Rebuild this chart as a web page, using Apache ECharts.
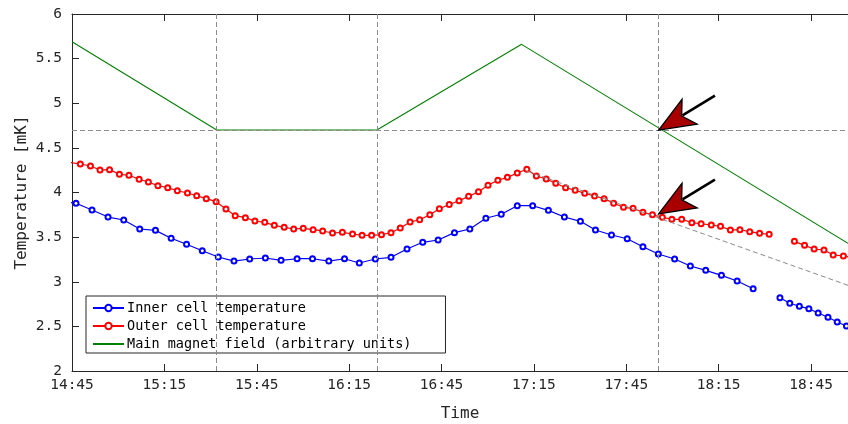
<!DOCTYPE html>
<html>
<head>
<meta charset="utf-8">
<script src="https://cdn.jsdelivr.net/npm/echarts@6/dist/echarts.min.js"></script>
<style>
  html, body { margin: 0; padding: 0; background: #ffffff; }
  #chart { width: 848px; height: 424px; }
</style>
</head>
<body>
<div id="chart"></div>
<script>
// Clock time at the left edge of the time axis, and the axis span in minutes
const ORIGIN = '14:45';
const SPAN_MINUTES = 252;
const TICK_MINUTES = 30;

// Inner cell temperature [mK]; null marks a gap in the logging
const innerTimes = [
  '14:41:12', '14:46:18', '14:51:30', '14:56:42', '15:01:48', '15:07:00', '15:12:06', '15:17:12',
  '15:22:12', '15:27:18', '15:32:30', '15:37:36', '15:42:42', '15:47:48', '15:52:54', '15:58:06',
  '16:03:06', '16:08:24', '16:13:30', '16:18:18', '16:23:30', '16:28:36', '16:33:48', '16:38:54',
  '16:43:54', '16:49:12', '16:54:12', '16:59:24', '17:04:24', '17:09:36', '17:14:36', '17:19:42',
  '17:24:54', '17:30:06', '17:35:00', '17:40:12', '17:45:18', '17:50:24', '17:55:24', '18:00:42',
  '18:05:48', '18:10:48', '18:15:54', '18:21:00', '18:26:12', null,
  '18:34:54', '18:38:06', '18:41:12', '18:44:18', '18:47:18', '18:50:30', '18:53:30', '18:56:30',
  '18:59:36'
];
const innerTemps = [
  3.90, 3.879, 3.804, 3.725, 3.692, 3.591, 3.576, 3.487,
  3.420, 3.348, 3.277, 3.232, 3.255, 3.266, 3.240, 3.258,
  3.258, 3.232, 3.258, 3.210, 3.255, 3.274, 3.367, 3.442,
  3.468, 3.550, 3.591, 3.711, 3.756, 3.852, 3.852, 3.800,
  3.725, 3.677, 3.580, 3.524, 3.482, 3.393, 3.311, 3.255,
  3.176, 3.128, 3.072, 3.008, 2.922, null,
  2.821, 2.759, 2.725, 2.698, 2.650, 2.602, 2.549, 2.504,
  2.47
];

// Outer cell temperature [mK]
const outerTimes = [
  '14:44:36', '14:47:42', '14:51:00', '14:54:06', '14:57:12', '15:00:24', '15:03:30', '15:06:48',
  '15:09:48', '15:12:54', '15:16:06', '15:19:12', '15:22:30', '15:25:30', '15:28:36', '15:31:48',
  '15:35:00', '15:38:00', '15:41:18', '15:44:24', '15:47:36', '15:50:42', '15:53:54', '15:57:00',
  '16:00:06', '16:03:18', '16:06:24', '16:09:36', '16:12:48', '16:16:06', '16:19:12', '16:22:18',
  '16:25:30', '16:28:36', '16:31:36', '16:34:48', '16:37:54', '16:41:12', '16:44:18', '16:47:30',
  '16:50:42', '16:53:48', '16:57:00', '17:00:06', '17:03:18', '17:06:24', '17:09:36', '17:12:42',
  '17:15:48', '17:19:00', '17:22:06', '17:25:18', '17:28:24', '17:31:30', '17:34:42', '17:37:48',
  '17:40:54', '17:44:06', '17:47:12', '17:50:24', '17:53:30', '17:56:42', '17:59:48', '18:03:00',
  '18:06:18', '18:09:18', '18:12:36', '18:15:36', '18:18:48', '18:21:54', '18:25:06', '18:28:18',
  '18:31:24', null,
  '18:39:36', '18:42:54', '18:46:00', '18:49:12', '18:52:12', '18:55:30', '18:58:36'
];
const outerTemps = [
  4.335, 4.319, 4.297, 4.252, 4.256, 4.204, 4.193, 4.148,
  4.118, 4.076, 4.054, 4.020, 3.994, 3.964, 3.931, 3.897,
  3.815, 3.740, 3.718, 3.681, 3.666, 3.632, 3.610, 3.591,
  3.599, 3.583, 3.569, 3.546, 3.554, 3.535, 3.520, 3.520,
  3.527, 3.550, 3.602, 3.669, 3.695, 3.751, 3.818, 3.866,
  3.908, 3.957, 4.009, 4.081, 4.137, 4.170, 4.218, 4.260,
  4.185, 4.151, 4.103, 4.054, 4.025, 3.991, 3.961, 3.931,
  3.879, 3.834, 3.823, 3.778, 3.751, 3.722, 3.700, 3.700,
  3.662, 3.650, 3.636, 3.621, 3.580, 3.583, 3.561, 3.543,
  3.532, null,
  3.453, 3.408, 3.367, 3.356, 3.300, 3.289, 3.27
];

// Main magnet field, plotted in arbitrary units on the temperature scale
const magnetTimes = ['14:45', '15:32', '16:24', '17:11', '18:57'];
const magnetLevels = [5.69, 4.70, 4.70, 5.66, 3.43];

// Reference markers: switching times, field level, and the outer-cell extrapolation
const markerTimes = ['15:32', '16:24', '17:55:30'];
const markerLevel = 4.7;
const trendTimes = ['17:12:42', '18:57'];
const trendTemps = [4.24, 2.96];
const arrowTips = [['17:55:30', 4.7], ['17:55:30', 3.76]];

const SERIES_NAMES = ['Inner cell temperature', 'Outer cell temperature', 'Main magnet field (arbitrary units)'];

const FONT = '"DejaVu Sans Mono", "Liberation Mono", monospace';
const AXIS_COLOR = '#262626';
const DASH_COLOR = '#8a8a8a';

function clockToMin(s) {
  const p = s.split(':').map(Number);
  return p[0] * 60 + p[1] + (p[2] || 0) / 60;
}
const originMin = clockToMin(ORIGIN);
function elapsed(s) { return clockToMin(s) - originMin; }
function minToLabel(v) {
  const m = Math.round(originMin + v);
  const h = Math.floor(m / 60), mm = m % 60;
  return h + ':' + String(mm).padStart(2, '0');
}
function pairs(times, values) {
  return times.map((t, i) => (t === null || values[i] === null) ? ['-', '-'] : [elapsed(t), values[i]]);
}

const dashed = { color: DASH_COLOR, width: 1, type: [5, 3] };

const chart = echarts.init(document.getElementById('chart'), null, { renderer: 'canvas' });

const baseX = {
  type: 'value', min: 0, max: SPAN_MINUTES, interval: TICK_MINUTES,
  axisLine: { show: true, onZero: false, lineStyle: { color: AXIS_COLOR, width: 1 } },
  axisTick: { show: true, inside: true, length: 7, lineStyle: { color: AXIS_COLOR } },
  splitLine: { show: false }
};

chart.setOption({
  animation: false,
  backgroundColor: '#ffffff',
  grid: { left: 72, right: 0, top: 14, bottom: 53, containLabel: false, outerBoundsMode: 'none' },
  xAxis: [
    Object.assign({}, baseX, {
      position: 'bottom',
      name: 'Time', nameLocation: 'middle', nameGap: 35, nameMoveOverlap: false,
      nameTextStyle: { fontFamily: FONT, fontSize: 16, color: AXIS_COLOR },
      axisLabel: {
        fontFamily: FONT, fontSize: 14.5, color: AXIS_COLOR, margin: 7,
        showMaxLabel: false, formatter: minToLabel
      }
    }),
    Object.assign({}, baseX, { position: 'top', axisLabel: { show: false } })
  ],
  yAxis: [{
    type: 'value', min: 2, max: 6, interval: 0.5,
    name: 'Temperature [mK]', nameLocation: 'middle', nameGap: 42, nameMoveOverlap: false,
    nameTextStyle: { fontFamily: FONT, fontSize: 16, color: AXIS_COLOR },
    axisLine: { show: true, onZero: false, lineStyle: { color: AXIS_COLOR, width: 1 } },
    axisTick: { show: true, inside: true, length: 7, lineStyle: { color: AXIS_COLOR } },
    axisLabel: { fontFamily: FONT, fontSize: 14.5, color: AXIS_COLOR, margin: 10 },
    splitLine: { show: false }
  }],
  legend: {
    data: [
      { name: SERIES_NAMES[0] },
      { name: SERIES_NAMES[1] },
      { name: SERIES_NAMES[2], itemStyle: { opacity: 0 } }
    ],
    orient: 'vertical', left: 86, top: 296,
    itemWidth: 31, itemHeight: 8, itemGap: 4,
    padding: [5, 34, 2, 6],
    borderColor: AXIS_COLOR, borderWidth: 1, borderRadius: 0,
    backgroundColor: '#ffffff',
    textStyle: { fontFamily: FONT, fontSize: 13.5, color: '#000000', padding: [0, 0, 0, -2] }
  },
  series: [
    {
      name: 'markers', type: 'line', data: [], silent: true, z: 1,
      markLine: {
        silent: true, symbol: 'none', animation: false,
        label: { show: false }, lineStyle: dashed,
        emphasis: { disabled: true },
        data: markerTimes.map(t => ({ xAxis: elapsed(t) })).concat([{ yAxis: markerLevel }])
      }
    },
    {
      name: SERIES_NAMES[0], type: 'line', z: 3,
      data: pairs(innerTimes, innerTemps),
      symbol: 'emptyCircle', symbolSize: 5, showAllSymbol: true,
      connectNulls: false, clip: true,
      itemStyle: { color: '#0000ff', borderWidth: 1 },
      lineStyle: { color: '#0000ff', width: 1.2 }
    },
    {
      name: SERIES_NAMES[1], type: 'line', z: 3,
      data: pairs(outerTimes, outerTemps),
      symbol: 'emptyCircle', symbolSize: 5, showAllSymbol: true,
      connectNulls: false, clip: true,
      itemStyle: { color: '#ff0000', borderWidth: 1 },
      lineStyle: { color: '#ff0000', width: 1.2 }
    },
    {
      name: SERIES_NAMES[2], type: 'line', z: 3,
      data: pairs(magnetTimes, magnetLevels),
      symbol: 'none', clip: true,
      itemStyle: { color: '#008000' },
      lineStyle: { color: '#008000', width: 1.1 }
    },
    {
      name: 'trend', type: 'line', z: 4, silent: true,
      data: pairs(trendTimes, trendTemps),
      symbol: 'none', clip: true,
      lineStyle: dashed
    }
  ]
});

// Annotation arrows pointing at the marker positions from the upper right
function arrow(tipData) {
  const tip = chart.convertToPixel({ xAxisIndex: 0, yAxisIndex: 0 }, [elapsed(tipData[0]), tipData[1]]);
  const ang = Math.atan2(-34.5, 56.5);
  const u = [Math.cos(ang), Math.sin(ang)];
  const n = [-u[1], u[0]];
  const at = (a, b) => [tip[0] + u[0] * a + n[0] * b, tip[1] + u[1] * a + n[1] * b];
  return [
    {
      type: 'line', z: 20, silent: true,
      shape: { x1: at(28, 0)[0], y1: at(28, 0)[1], x2: at(66, 0)[0], y2: at(66, 0)[1] },
      style: { stroke: '#000000', lineWidth: 2.6 }
    },
    {
      type: 'polygon', z: 21, silent: true,
      shape: { points: [tip, at(36, -14), at(27, 0), at(36, 15)] },
      style: { fill: '#a80000', stroke: '#000000', lineWidth: 1.3, lineJoin: 'miter' }
    }
  ];
}
chart.setOption({ graphic: arrowTips.map(arrow).flat() });
</script>
</body>
</html>
